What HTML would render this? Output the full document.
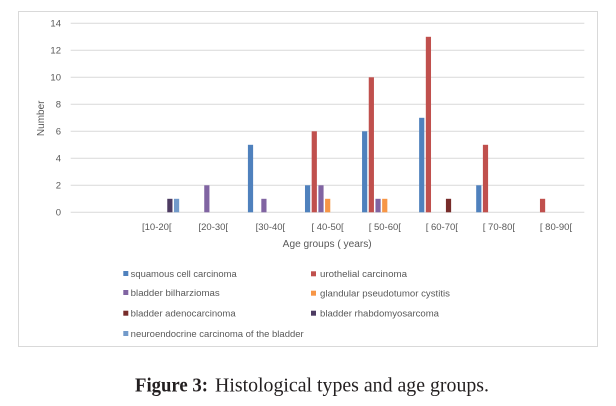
<!DOCTYPE html>
<html>
<head>
<meta charset="utf-8">
<style>
html,body{margin:0;padding:0;background:#fff;}
svg{display:block;}
</style>
</head>
<body>
<svg width="616" height="406" viewBox="0 0 616 406" xmlns="http://www.w3.org/2000/svg">
<rect x="0" y="0" width="616" height="406" fill="#fff"/>
<!-- chart border -->
<rect x="18.5" y="11.5" width="579" height="335" fill="#fff" stroke="#d9d9d9" stroke-width="1"/>
<!-- gridlines -->
<g stroke="#d9d9d9" stroke-width="1">
<line x1="70.7" y1="23.3" x2="584.3" y2="23.3"/>
<line x1="70.7" y1="50.3" x2="584.3" y2="50.3"/>
<line x1="70.7" y1="77.3" x2="584.3" y2="77.3"/>
<line x1="70.7" y1="104.3" x2="584.3" y2="104.3"/>
<line x1="70.7" y1="131.3" x2="584.3" y2="131.3"/>
<line x1="70.7" y1="158.3" x2="584.3" y2="158.3"/>
<line x1="70.7" y1="185.3" x2="584.3" y2="185.3"/>
<line x1="70.7" y1="212.3" x2="584.3" y2="212.3"/>
</g>
<!-- y tick labels -->
<g font-family="Liberation Sans, sans-serif" font-size="9.5" fill="#595959" text-anchor="end">
<text x="61" y="26.6">14</text>
<text x="61" y="53.6">12</text>
<text x="61" y="80.6">10</text>
<text x="61" y="107.6">8</text>
<text x="61" y="134.6">6</text>
<text x="61" y="161.6">4</text>
<text x="61" y="188.6">2</text>
<text x="61" y="215.6">0</text>
</g>
<!-- bars -->
<g>
<!-- c1 -->
<rect x="167.27" y="198.8" width="5.2" height="13.5" fill="#4d3b62"/>
<rect x="173.97" y="198.8" width="5.2" height="13.5" fill="#729aca"/>
<!-- c2 -->
<rect x="204.24" y="185.3" width="5.2" height="27" fill="#8064a2"/>
<!-- c3 -->
<rect x="247.91" y="144.8" width="5.2" height="67.5" fill="#4f81bd"/>
<rect x="261.31" y="198.8" width="5.2" height="13.5" fill="#8064a2"/>
<!-- c4 -->
<rect x="304.98" y="185.3" width="5.2" height="27" fill="#4f81bd"/>
<rect x="311.68" y="131.3" width="5.2" height="81" fill="#c0504d"/>
<rect x="318.38" y="185.3" width="5.2" height="27" fill="#8064a2"/>
<rect x="325.08" y="198.8" width="5.2" height="13.5" fill="#f79646"/>
<!-- c5 -->
<rect x="362.05" y="131.3" width="5.2" height="81" fill="#4f81bd"/>
<rect x="368.75" y="77.3" width="5.2" height="135" fill="#c0504d"/>
<rect x="375.45" y="198.8" width="5.2" height="13.5" fill="#8064a2"/>
<rect x="382.15" y="198.8" width="5.2" height="13.5" fill="#f79646"/>
<!-- c6 -->
<rect x="419.12" y="117.8" width="5.2" height="94.5" fill="#4f81bd"/>
<rect x="425.82" y="36.8" width="5.2" height="175.5" fill="#c0504d"/>
<rect x="445.92" y="198.8" width="5.2" height="13.5" fill="#772c2a"/>
<!-- c7 -->
<rect x="476.19" y="185.3" width="5.2" height="27" fill="#4f81bd"/>
<rect x="482.89" y="144.8" width="5.2" height="67.5" fill="#c0504d"/>
<!-- c8 -->
<rect x="539.96" y="198.8" width="5.2" height="13.5" fill="#c0504d"/>
</g>
<!-- category labels -->
<g font-family="Liberation Sans, sans-serif" font-size="9.5" fill="#595959" text-anchor="middle">
<text x="156.8" y="230">[10-20[</text>
<text x="213.3" y="230">[20-30[</text>
<text x="270.4" y="230">[30-40[</text>
<text x="327.6" y="230">[ 40-50[</text>
<text x="384.8" y="230">[ 50-60[</text>
<text x="441.8" y="230">[ 60-70[</text>
<text x="498.9" y="230">[ 70-80[</text>
<text x="556" y="230">[ 80-90[</text>
</g>
<!-- axis titles -->
<text x="282.7" y="246.8" font-family="Liberation Sans, sans-serif" font-size="10" fill="#595959" textLength="89" lengthAdjust="spacingAndGlyphs">Age groups ( years)</text>
<text transform="translate(44.2,118.3) rotate(-90)" x="0" y="0" text-anchor="middle" font-family="Liberation Sans, sans-serif" font-size="10" fill="#595959">Number</text>
<!-- legend -->
<g>
<rect x="123.3" y="271" width="5" height="5" fill="#4f81bd"/>
<rect x="123.3" y="290" width="5" height="5" fill="#8064a2"/>
<rect x="123.3" y="310.7" width="5" height="5" fill="#772c2a"/>
<rect x="123.3" y="331" width="5" height="5" fill="#729aca"/>
<rect x="311" y="271.3" width="5" height="5" fill="#c0504d"/>
<rect x="311" y="290.7" width="5" height="5" fill="#f79646"/>
<rect x="311" y="310.7" width="5" height="5" fill="#4d3b62"/>
</g>
<g font-family="Liberation Sans, sans-serif" font-size="9" fill="#595959">
<text x="130.7" y="277" textLength="106" lengthAdjust="spacingAndGlyphs">squamous cell carcinoma</text>
<text x="130.7" y="296" textLength="89" lengthAdjust="spacingAndGlyphs">bladder bilharziomas</text>
<text x="130.7" y="316.6" textLength="105" lengthAdjust="spacingAndGlyphs">bladder adenocarcinoma</text>
<text x="130.7" y="337" textLength="173" lengthAdjust="spacingAndGlyphs">neuroendocrine carcinoma of the bladder</text>
<text x="320" y="277.2" textLength="87" lengthAdjust="spacingAndGlyphs">urothelial carcinoma</text>
<text x="320" y="296.6" textLength="130" lengthAdjust="spacingAndGlyphs">glandular pseudotumor cystitis</text>
<text x="320" y="316.6" textLength="119" lengthAdjust="spacingAndGlyphs">bladder rhabdomyosarcoma</text>
</g>
<!-- caption -->
<text x="135" y="391.7" font-family="Liberation Serif, serif" font-size="19.5" font-weight="bold" fill="#231f20" textLength="73" lengthAdjust="spacingAndGlyphs">Figure 3:</text>
<text x="215" y="391.7" font-family="Liberation Serif, serif" font-size="19.5" fill="#231f20" textLength="274" lengthAdjust="spacingAndGlyphs">Histological types and age groups.</text>
</svg>
</body>
</html>
